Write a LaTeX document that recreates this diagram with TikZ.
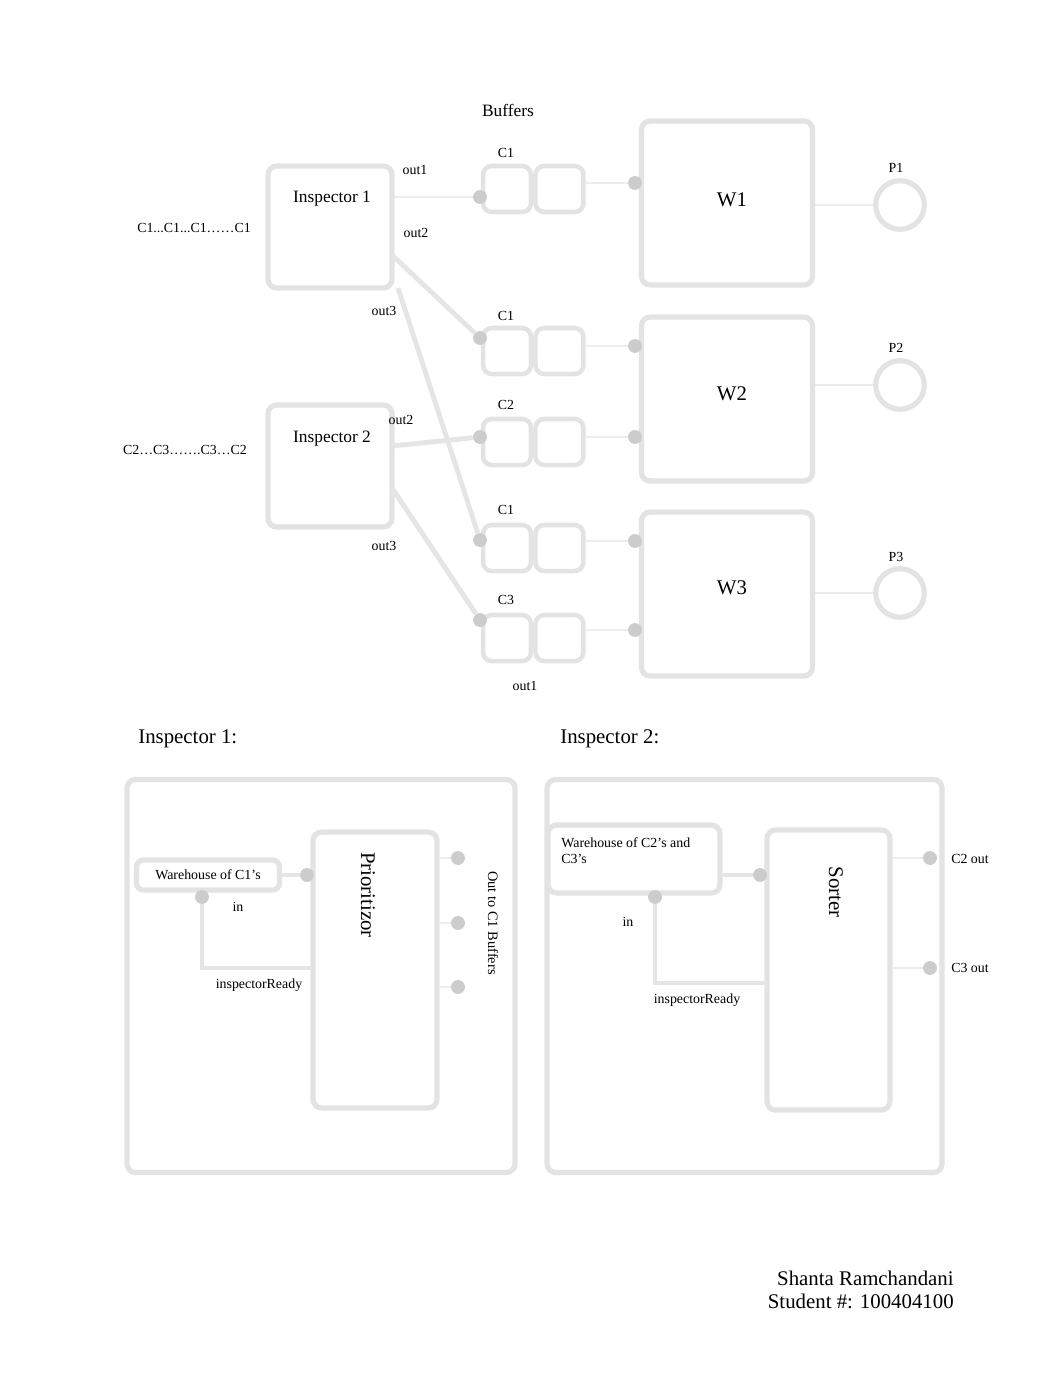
\documentclass[tikz,border=0pt]{standalone}
\usepackage{fontspec}
\setmainfont{Liberation Serif}
\usetikzlibrary{positioning,calc}

\begin{document}
\begin{tikzpicture}[
    x=0.576pt, y=-0.576pt,
    blk/.style={rectangle, draw=gray!22, line width=3pt, rounded corners=5pt,
                inner sep=0pt, fill=white},
    insp/.style={blk, minimum width=71.4pt, minimum height=70.3pt},
    cell/.style={blk, line width=2.6pt, minimum width=27.6pt, minimum height=26.5pt},
    wbox/.style={blk, minimum width=98.5pt, minimum height=94.5pt},
    prod/.style={circle, draw=gray!22, line width=3pt, minimum size=28pt, inner sep=0pt},
    port/.style={circle, fill=gray!40, minimum size=8pt, inner sep=0pt},
    wire/.style={draw=gray!20, line width=2.8pt},
    thin/.style={draw=gray!14, line width=1.4pt},
    tiny/.style={font=\fontsize{8}{9.6}\selectfont, inner sep=0pt},
    mid/.style={font=\fontsize{10}{12}\selectfont, inner sep=0pt},
    big/.style={font=\fontsize{12}{14}\selectfont, inner sep=0pt}
  ]
  \useasboundingbox (0,0) rectangle (1062,1376);

  % inspectors
  \node[insp] (i1) at (330,227) {};
  \node[insp] (i2) at (330,466) {};
  \node[mid] at (332,199) {Inspector 1};
  \node[mid] at (332,439) {Inspector 2};
  \node[tiny] at (194,228) {C1...C1...C1……C1};
  \node[tiny] at (185,450) {C2…C3…….C3…C2};
  \coordinate (i1o2) at (392,255);
  \coordinate (i1o3) at (398,288);
  \coordinate (i2o2) at (392,446);
  \coordinate (i2o3) at (392,488);

  % buffers
  \node[mid] at (508,110) {Buffers};
  \node[cell] (b1a) at (507,189) {};
  \node[cell, right=0pt of b1a] (b1b) {};
  \node[cell] (b2a) at (507,351) {};
  \node[cell, right=0pt of b2a] (b2b) {};
  \node[cell] (b3a) at (507,442) {};
  \node[cell, right=0pt of b3a] (b3b) {};
  \node[cell] (b4a) at (507,548) {};
  \node[cell, right=0pt of b4a] (b4b) {};
  \node[cell] (b5a) at (507,638) {};
  \node[cell, right=0pt of b5a] (b5b) {};
  \node[port] (b1in) at (480,197) {};
  \node[port] (b2in) at (480,338) {};
  \node[port] (b3in) at (480,437) {};
  \node[port] (b4in) at (480,540) {};
  \node[port] (b5in) at (480,620) {};
  \node[tiny] at (506,153) {C1};
  \node[tiny] at (506,316) {C1};
  \node[tiny] at (506,405) {C2};
  \node[tiny] at (506,510) {C1};
  \node[tiny] at (506,600) {C3};

  % workstations and products
  \node[wbox] (w1) at (727,203) {};
  \node[wbox] (w2) at (727,399) {};
  \node[wbox] (w3) at (727,594) {};
  \node[big] at (732,200) {W1};
  \node[big] at (732,394) {W2};
  \node[big] at (732,588) {W3};
  \node[port] (w1in) at (635,183) {};
  \node[port] (w2in) at (635,346) {};
  \node[port] (w2in2) at (635,437) {};
  \node[port] (w3in) at (635,541) {};
  \node[port] (w3in2) at (635,630) {};
  \node[prod] (p1) at (900,205) {};
  \node[prod] (p2) at (900,385) {};
  \node[prod] (p3) at (900,593) {};
  \node[tiny] at (896,168) {P1};
  \node[tiny] at (896,348) {P2};
  \node[tiny] at (896,557) {P3};

  \draw[thin] (b1in -| i1.east) -- (b1in);
  \draw[wire] (i1o2) -- (b2in);
  \draw[wire] (i1o3) -- (b4in);
  \draw[wire] (i2o2) -- (b3in);
  \draw[wire] (i2o3) -- (b5in);
  \draw[thin] (w1in -| b1b.east) -- (w1in);
  \draw[thin] (w2in -| b2b.east) -- (w2in);
  \draw[thin] (w2in2 -| b3b.east) -- (w2in2);
  \draw[thin] (w3in -| b4b.east) -- (w3in);
  \draw[thin] (w3in2 -| b5b.east) -- (w3in2);
  \draw[thin] (p1.west -| w1.east) -- (p1.west);
  \draw[thin] (p2.west -| w2.east) -- (p2.west);
  \draw[thin] (p3.west -| w3.east) -- (p3.west);

  \node[tiny] at (415,170) {out1};
  \node[tiny] at (416,233) {out2};
  \node[tiny] at (384,311) {out3};
  \node[tiny] at (401,420) {out2};
  \node[tiny] at (384,546) {out3};
  \node[tiny] at (525,686) {out1};

  % inspector 1 detail
  \node[big, anchor=west] at (138,739) {Inspector 1:};
  \node[blk, minimum width=223.5pt, minimum height=226.4pt] (o1) at (321,976) {};
  \node[blk, minimum width=71.4pt, minimum height=159pt] (prio) at (375,970) {};
  \node[blk, rounded corners=4pt, minimum width=82.4pt, minimum height=17.3pt,
        tiny] (wh1) at (208,875) {Warehouse of C1’s};
  \node[port] (wh1out) at (307,875) {};
  \node[port] (wh1in) at (202,897) {};
  \node[port] (pr1) at (458,858) {};
  \node[port] (pr2) at (458,923) {};
  \node[port] (pr3) at (458,987) {};
  \coordinate (rdy1) at (313,968);
  \draw[wire] (wh1) -- (wh1out);
  \draw[wire] (wh1in) |- (rdy1);
  \draw[thin] (pr1 -| prio.east) -- (pr1);
  \draw[thin] (pr2 -| prio.east) -- (pr2);
  \draw[thin] (pr3 -| prio.east) -- (pr3);
  \node[big, rotate=-90] at (368,895) {Prioritizor};
  \node[tiny, rotate=-90, font=\fontsize{8.3}{10}\selectfont] at (493,923) {Out to C1 Buffers};
  \node[tiny] at (238,907) {in};
  \node[tiny] at (259,985) {inspectorReady};

  % inspector 2 detail
  \node[big, anchor=west] at (560,739) {Inspector 2:};
  \node[blk, minimum width=227.5pt, minimum height=226.4pt] (o2) at (744.5,976) {};
  \node[blk, minimum width=99pt, minimum height=39.2pt] (wh2) at (634,859) {};
  \node[tiny, anchor=north west, align=left] at (561,837) {Warehouse of C2’s and\\C3’s};
  \node[blk, minimum width=70.8pt, minimum height=161.3pt] (sort) at (828.5,970) {};
  \node[port] (wh2out) at (760,875) {};
  \node[port] (wh2in) at (655,897) {};
  \node[port] (so1) at (930,858) {};
  \node[port] (so2) at (930,968) {};
  \coordinate (rdy2) at (767,983);
  \draw[wire] (wh2out -| wh2.east) -- (wh2out);
  \draw[wire] (wh2in) |- (rdy2);
  \draw[thin] (so1 -| sort.east) -- (so1);
  \draw[thin] (so2 -| sort.east) -- (so2);
  \node[big, rotate=-90] at (836,892) {Sorter};
  \node[tiny] at (628,922) {in};
  \node[tiny] at (697,1000) {inspectorReady};
  \node[tiny] at (970,859) {C2 out};
  \node[tiny] at (970,968) {C3 out};

  \node[big, anchor=east, align=right, font=\fontsize{12}{13.2}\selectfont]
    at (954,1290) {Shanta Ramchandani\\Student \#: 100404100};
\end{tikzpicture}
\end{document}
